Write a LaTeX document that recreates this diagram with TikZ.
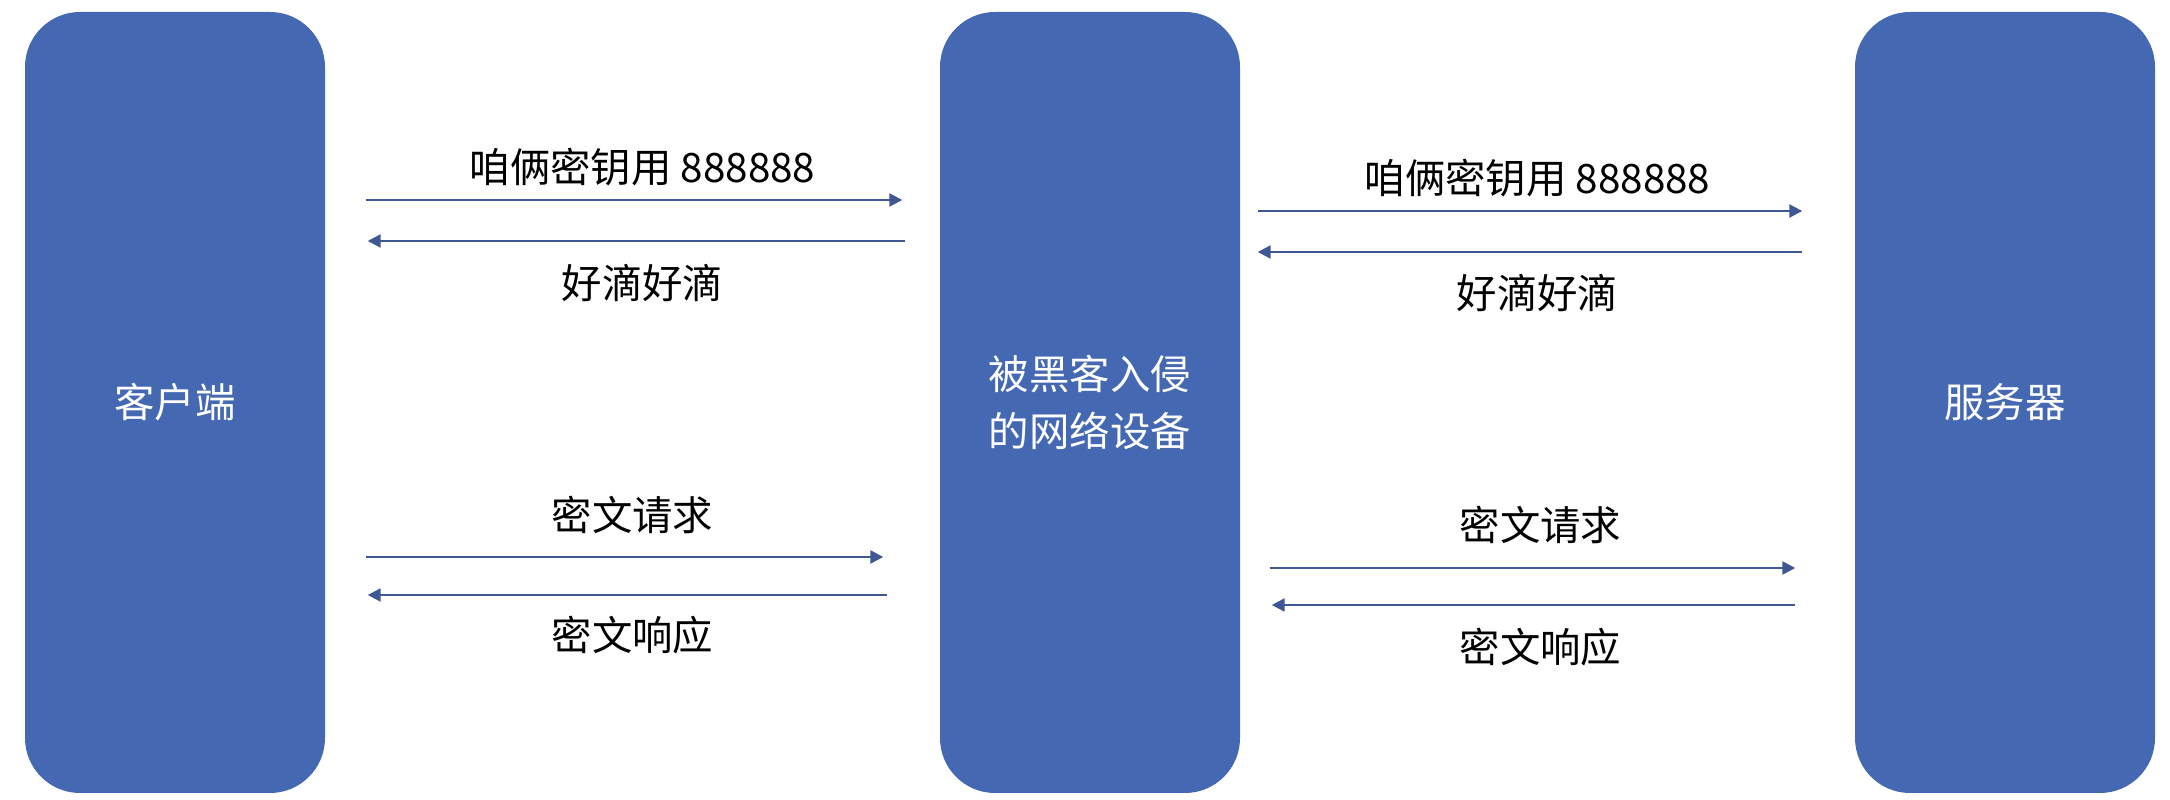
\documentclass[tikz,border=0pt]{standalone}
\usepackage{fontspec}
\newfontfamily\cjk{Noto Sans CJK SC}
\usepackage{tikz}
\usetikzlibrary{arrows.meta,positioning}

\definecolor{boxblue}{RGB}{68,104,178}
\definecolor{msgblue}{RGB}{62,88,148}

\begin{document}
\begin{tikzpicture}[>={Triangle[length=1.3mm,width=1.3mm]}, node distance=9.15cm,
    font=\cjk\fontsize{11.5}{16.2}\selectfont,
    device/.style={fill=boxblue, text=white, rounded corners=0.55cm, minimum width=3cm,
                   minimum height=7.81cm, inner sep=0pt, align=center},
    msg/.style={->, draw=msgblue, line width=0.7pt}]
    \useasboundingbox (0,0) rectangle (21.70,-8.00);

    % Nodes {client, hacker, server}
    \node [device]      (client)                        at (1.75,-4.025)  {客户端};
    \node [device]      (hacker)  [right of=client]     {被黑客入侵\\的网络设备};
    \node [device]      (server)  [right of=hacker]     {服务器};

    % Paths client <-> hacker
    \draw [msg, shorten <=4mm, shorten >=3.7mm]    (client.east |- 0,-2.00) -- node[yshift=0.33cm, xshift=0.1cm]  {咱俩密钥用 888888} (hacker.west |- 0,-2.00);
    \draw [msg, shorten <=3.4mm, shorten >=4.2mm]  (hacker.west |- 0,-2.41) -- node[yshift=-0.42cm, xshift=0.1cm] {好滴好滴}          (client.east |- 0,-2.41);
    \draw [msg, shorten <=4mm, shorten >=5.6mm]    (client.east |- 0,-5.57) -- node[yshift=0.42cm]  {密文请求}          (hacker.west |- 0,-5.57);
    \draw [msg, shorten <=5.2mm, shorten >=4.2mm]  (hacker.west |- 0,-5.95) -- node[yshift=-0.40cm] {密文响应}          (client.east |- 0,-5.95);

    % Paths hacker <-> server
    \draw [msg, shorten <=1.7mm, shorten >=5.2mm]  (hacker.east |- 0,-2.11) -- node[yshift=0.33cm, xshift=-0.1cm]  {咱俩密钥用 888888} (server.west |- 0,-2.11);
    \draw [msg, shorten <=5.2mm, shorten >=1.7mm]  (server.west |- 0,-2.52) -- node[yshift=-0.41cm, xshift=-0.1cm] {好滴好滴}          (hacker.east |- 0,-2.52);
    \draw [msg, shorten <=2.9mm, shorten >=5.9mm]  (hacker.east |- 0,-5.68) -- node[yshift=0.43cm, xshift=-0.07cm]  {密文请求}          (server.west |- 0,-5.68);
    \draw [msg, shorten <=5.9mm, shorten >=3.1mm]  (server.west |- 0,-6.05) -- node[yshift=-0.42cm, xshift=-0.07cm] {密文响应}          (hacker.east |- 0,-6.05);

\end{tikzpicture}
\end{document}
